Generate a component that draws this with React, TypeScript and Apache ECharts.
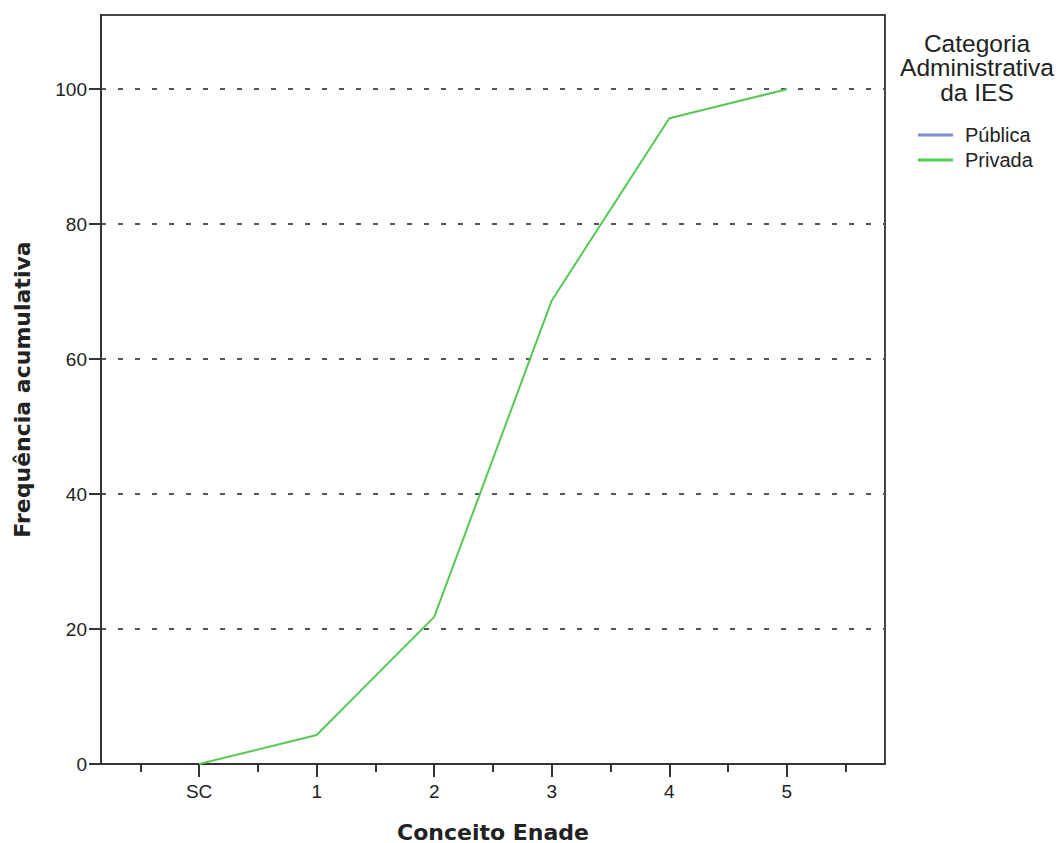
import React, { useEffect, useRef } from "react";
import * as echarts from "echarts";

const categories = ["SC", "1", "2", "3", "4", "5"];
const xPositions = [0, 1, 2, 3, 4, 5];
const minorTickPositions = [-0.5, 0.5, 1.5, 2.5, 3.5, 4.5, 5.5];
const privadaValues = [0, 4.3, 21.8, 68.7, 95.7, 100];
const publicaValues: number[] = [];
const yTicks = [0, 20, 40, 60, 80, 100];
const legendNames = ["Pública", "Privada"];
const legendTitle = "Categoria\nAdministrativa\nda IES";

export default function App() {
  const ref = useRef<HTMLDivElement>(null);
  useEffect(() => {
    if (!ref.current) return;
    const chart = echarts.init(ref.current, undefined, { renderer: "svg" });
    const font = "'Liberation Sans', Arial, sans-serif";
    const boldFont = "'DejaVu Sans', Verdana, sans-serif";
    chart.setOption({
      animation: false,
      backgroundColor: "#ffffff",
      textStyle: { fontFamily: font },
      grid: {
        left: 101,
        top: 15,
        right: 173,
        bottom: 79,
        outerBoundsMode: "none",
        containLabel: false,
        show: true,
        borderColor: "#444444",
        borderWidth: 2,
        backgroundColor: "transparent",
      },
      legend: {
        orient: "vertical",
        left: 913,
        top: 120,
        itemWidth: 35,
        itemHeight: 3,
        itemGap: 5,
        icon: "rect",
        data: legendNames,
        textStyle: { fontSize: 20, color: "#222", fontFamily: font, padding: [0, 0, 0, 7] },
      },
      graphic: [
        {
          type: "text",
          x: 977,
          y: 30.75,
          style: {
            text: legendTitle,
            fontSize: 24.5,
            lineHeight: 24.5,
            fill: "#222",
            fontFamily: font,
            align: "center",
            verticalAlign: "top",
          },
        },
      ],
      xAxis: [
        {
          type: "value",
          min: -0.835,
          max: 5.835,
          name: "Conceito Enade",
          nameLocation: "middle",
          nameGap: 58,
          nameTextStyle: {
            fontSize: 22,
            lineHeight: 20,
            fontWeight: "bold",
            color: "#222",
            fontFamily: boldFont,
          },
          axisLine: { show: true, onZero: false, lineStyle: { color: "#333", width: 2 } },
          axisTick: {
            show: true,
            customValues: xPositions,
            length: 13,
            lineStyle: { color: "#333", width: 2 },
          },
          axisLabel: {
            customValues: xPositions,
            margin: 18,
            fontSize: 19,
            color: "#222",
            formatter: (v: number) => categories[Math.round(v)] ?? "",
          },
          splitLine: { show: false },
        },
        {
          type: "value",
          gridIndex: 0,
          position: "bottom",
          min: -0.835,
          max: 5.835,
          axisLine: { show: false, onZero: false },
          axisTick: {
            show: true,
            customValues: minorTickPositions,
            length: 8,
            lineStyle: { color: "#333", width: 2 },
          },
          axisLabel: { show: false },
          splitLine: { show: false },
        },
      ],
      yAxis: {
        type: "value",
        min: 0,
        max: 111,
        interval: 20,
        name: "Frequência acumulativa",
        nameLocation: "middle",
        nameGap: 68,
        nameRotate: 90,
        nameTextStyle: { fontSize: 22, fontWeight: "bold", color: "#222", fontFamily: boldFont },
        axisLine: { show: true, onZero: false, lineStyle: { color: "#333", width: 2 } },
        axisTick: {
          show: true,
          customValues: yTicks,
          length: 12,
          lineStyle: { color: "#333", width: 2 },
        },
        axisLabel: {
          customValues: yTicks,
          margin: 14,
          fontSize: 19,
          color: "#222",
        },
        splitLine: {
          show: true,
          lineStyle: { color: "#555", width: 2, type: [5, 12] },
        },
      },
      series: [
        {
          name: legendNames[0],
          type: "line",
          symbol: "none",
          color: "#7b8fd0",
          lineStyle: { width: 2, color: "#7b8fd0" },
          data: publicaValues.map((v, i) => [xPositions[i], v]),
        },
        {
          name: legendNames[1],
          type: "line",
          symbol: "none",
          color: "#55c855",
          lineStyle: { width: 2, color: "#55c855" },
          data: privadaValues.map((v, i) => [xPositions[i], v]),
        },
      ],
    });
    return () => chart.dispose();
  }, []);
  return (
    <div
      ref={ref}
      style={{ position: "absolute", left: 0, top: 0, width: 1058, height: 843 }}
    />
  );
}
